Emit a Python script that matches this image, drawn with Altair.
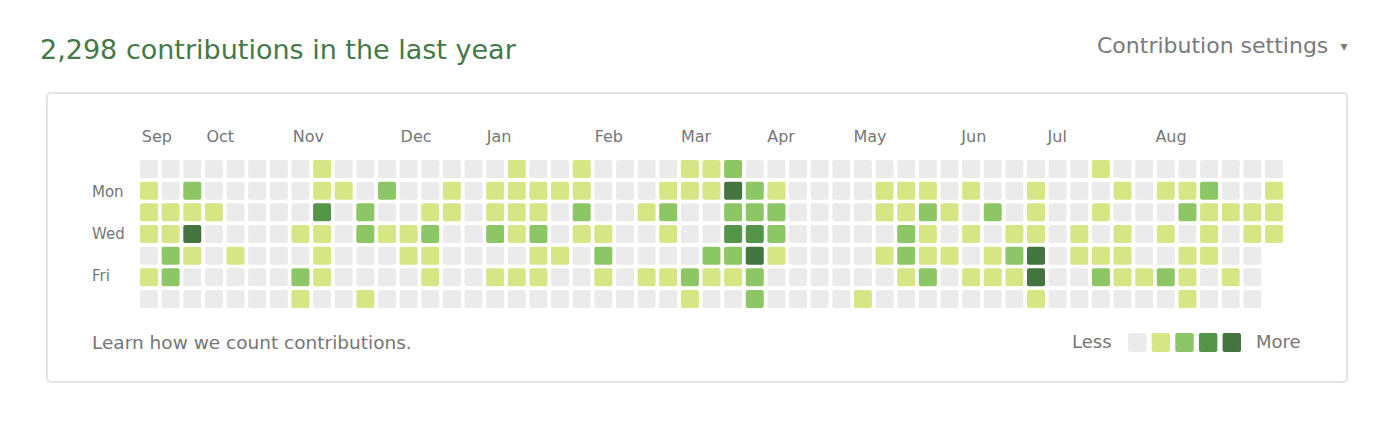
import altair as alt
import pandas as pd

# ---- data ----
TITLE = "2,298 contributions in the last year"
SETTINGS = "Contribution settings"
FOOTER = "Learn how we count contributions."
months = ["Sep", "Oct", "Nov", "Dec", "Jan", "Feb", "Mar", "Apr", "May", "Jun", "Jul", "Aug"]
month_cols = [0, 3, 7, 12, 16, 21, 25, 29, 33, 38, 42, 47]
day_labels = ["Mon", "Wed", "Fri"]
day_rows = [1, 3, 5]
levels = [0, 1, 2, 3, 4]
level_colors = ["#ebebeb", "#d6e685", "#8cc665", "#55954a", "#44743f"]

# one string per weekday (Sun..Sat), one character per week column (activity level),
# written in groups of ten weeks
row_sun = "0000000010 0000000100 1000011200 0000000000 0000100000 000"
row_mon = "1020000011 0200101111 1000111421 0000111010 0100010112 001"
row_tue = "1111000030 2001101110 2001200222 0000112102 0100100021 111"
row_wed = "1140000110 2112002120 1100100332 0000021010 1101010101 011"
row_thu = "0210100010 0011000011 0200002241 0000121101 2401110011 00"
row_fri = "1200000210 0001001110 0101121120 0000012011 1400211210 10"
row_sat = "0000000100 1000000000 0000010020 0001000000 0100000010 00"
week_rows = [row_sun, row_mon, row_tue, row_wed, row_thu, row_fri, row_sat]

records = []
for r, s in enumerate(week_rows):
    for c, ch in enumerate(s.replace(" ", "")):
        records.append({"col": c, "row": r, "level": int(ch)})
cells = pd.DataFrame(records)

FONT = "DejaVu Sans"
GREY = "#767676"
NCOL = 53

xscale = alt.Scale(domain=list(range(NCOL)), range=[132, 1275], paddingInner=0.168, paddingOuter=0)
yscale = alt.Scale(domain=list(range(7)), range=[152, 300], paddingInner=0.168, paddingOuter=0)
cscale = alt.Scale(domain=levels, range=level_colors)

box = alt.Chart(pd.DataFrame({"k": [0]})).mark_rect(
    fill="white", stroke="#e4e4e4", strokeWidth=2, cornerRadius=4
).encode(x=alt.value(39), x2=alt.value(1339), y=alt.value(85), y2=alt.value(374))

grid = alt.Chart(cells).mark_rect(cornerRadius=2).encode(
    x=alt.X("col:O", scale=xscale, axis=None),
    y=alt.Y("row:O", scale=yscale, axis=None),
    color=alt.Color("level:O", scale=cscale, legend=None),
)

mdf = pd.DataFrame({"col": month_cols, "m": months})
mlabels = alt.Chart(mdf).mark_text(
    align="left", baseline="alphabetic", font=FONT, fontSize=16, color=GREY, dx=-9
).encode(
    x=alt.X("col:O", scale=xscale, axis=None),
    y=alt.value(134),
    text="m:N",
)

ddf = pd.DataFrame({"row": day_rows, "d": day_labels})
dlabels = alt.Chart(ddf).mark_text(
    align="left", baseline="middle", font=FONT, fontSize=15, color=GREY
).encode(
    x=alt.value(84),
    y=alt.Y("row:O", scale=yscale, axis=None),
    text="d:N",
)

ldf = pd.DataFrame({"level": levels})
lscale = alt.Scale(domain=levels, range=[1120, 1233], paddingInner=0.22, paddingOuter=0)
legend_sq = alt.Chart(ldf).mark_rect(cornerRadius=2).encode(
    x=alt.X("level:O", scale=lscale, axis=None),
    y=alt.value(325),
    y2=alt.value(344),
    color=alt.Color("level:O", scale=cscale, legend=None),
)

def label(text, x, y, size, color, align="left", baseline="alphabetic", font=FONT):
    return alt.Chart(pd.DataFrame({"t": [text]})).mark_text(
        align=align, baseline=baseline, font=font, fontSize=size, color=color
    ).encode(x=alt.value(x), y=alt.value(y), text="t:N")

title = label(TITLE, 32, 51, 27, "#46784a")
settings = label(SETTINGS, 1089, 45, 22, "#7a7a7a")
caret = label("▾", 1336, 39, 14, "#7a7a7a", align="center", baseline="middle")
footer = label(FOOTER, 84, 341, 18.5, GREY)
less = label("Less", 1064, 335, 18, GREY, baseline="middle")
more = label("More", 1248, 335, 18, GREY, baseline="middle")

chart = alt.layer(
    box, grid, mlabels, dlabels, legend_sq, title, settings, caret, footer, less, more
).resolve_scale(x="independent", y="independent").properties(
    width=1374, height=412, autosize="none", padding=0, background="white"
).configure_view(stroke=None)

chart.save("out.html", embed_options={"renderer": "svg", "actions": False})
